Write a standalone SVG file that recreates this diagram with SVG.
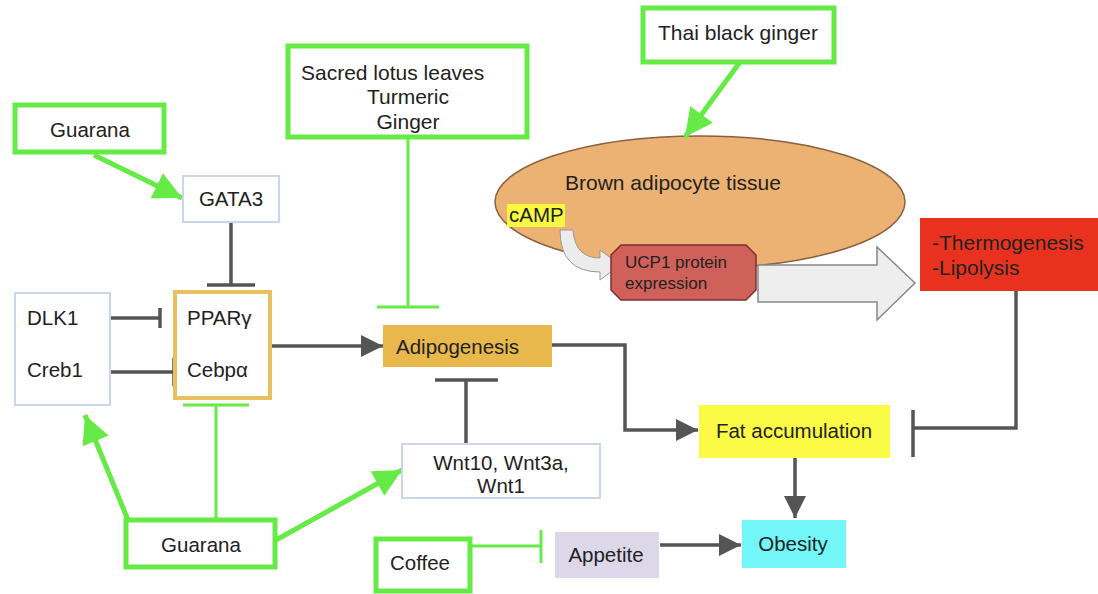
<svg xmlns="http://www.w3.org/2000/svg" width="1098" height="594" viewBox="0 0 1098 594">
<defs>
<style>
text{font-family:"Liberation Sans",Arial,sans-serif;font-size:20.5px;fill:#222}
.big{font-size:21px}
.sm{font-size:17px}
.herb{fill:#fff;stroke:#66ea46;stroke-width:5}
.gene{fill:#fff;stroke:#c9d6ec;stroke-width:2}
.gl{stroke:#555;stroke-width:3.5;fill:none}
.grn{stroke:#66ea46;stroke-width:3;fill:none}
.grnA{stroke:#66ea46;stroke-width:5;fill:none}
</style>
<marker id="ag" viewBox="0 0 10 10" refX="10" refY="5" markerWidth="26" markerHeight="22" markerUnits="userSpaceOnUse" orient="auto"><path d="M0,0 L10,5 L0,10 z" fill="#555"/></marker>
<marker id="agr" viewBox="0 0 10 10" refX="10" refY="5" markerWidth="32" markerHeight="28" markerUnits="userSpaceOnUse" orient="auto"><path d="M0,0 L10,5 L0,10 z" fill="#66ea46"/></marker>
</defs>
<rect width="1098" height="594" fill="#fff"/>

<g id="brown-adipocyte-tissue">
<ellipse cx="700" cy="202" rx="205" ry="66" fill="#ebb273" stroke="#8a6040" stroke-width="1.5"/>
<text class="big" x="673" y="190" text-anchor="middle">Brown adipocyte tissue</text>
<rect x="507" y="204" width="58" height="23" fill="#f8f840"/>
<text x="509" y="222">cAMP</text>
<path d="M560,230 L573,230 Q575,258 600,258 L600,250 L620,265 L600,280 L600,272 Q560,272 560,230 Z" fill="#ececec" stroke="#999" stroke-width="1"/>
</g>

<g id="ucp1">
<polygon points="621,245 746,245 756,255 756,290 746,300 621,300 611,290 611,255" fill="#d0605a" stroke="#7a3030" stroke-width="1.5"/>
<text class="sm" x="625" y="268">UCP1 protein</text>
<text class="sm" x="625" y="289">expression</text>
</g>

<g id="connectors">
<polygon points="758,265 877,265 877,247 915,283 877,320 877,302 758,302" fill="#eeeeee" stroke="#888" stroke-width="1.5"/>
<line class="grnA" x1="94" y1="155" x2="182" y2="198" marker-end="url(#agr)"/>
<line class="grnA" x1="740" y1="62" x2="685" y2="137" marker-end="url(#agr)"/>
<line class="grnA" x1="128" y1="520" x2="85" y2="415" marker-end="url(#agr)"/>
<line class="grnA" x1="276" y1="540" x2="402" y2="470" marker-end="url(#agr)"/>
<line class="grn" x1="408" y1="137" x2="408" y2="307"/>
<line class="grn" x1="377" y1="307" x2="439" y2="307"/>
<line class="grn" x1="216" y1="405" x2="216" y2="520"/>
<line class="grn" x1="183" y1="405" x2="249" y2="405"/>
<line class="grn" x1="472" y1="546" x2="541" y2="546"/>
<line class="grn" x1="541" y1="530" x2="541" y2="563"/>
<line class="gl" x1="231" y1="222" x2="231" y2="285"/>
<line class="gl" x1="207" y1="285" x2="255" y2="285"/>
<line class="gl" x1="97" y1="318" x2="160" y2="318"/>
<line class="gl" x1="160" y1="308" x2="160" y2="328"/>
<line class="gl" x1="107" y1="372" x2="174" y2="372"/>
<line class="gl" x1="174" y1="358" x2="174" y2="386"/>
<line class="gl" x1="466" y1="443" x2="466" y2="380"/>
<line class="gl" x1="435" y1="380" x2="498" y2="380"/>
<polyline class="gl" points="1016,291 1016,428 913,428"/>
<line class="gl" x1="913" y1="410" x2="913" y2="457"/>
<line class="gl" x1="270" y1="346" x2="383" y2="346" marker-end="url(#ag)"/>
<polyline class="gl" points="552,345 625,345 625,430 698,430" marker-end="url(#ag)"/>
<line class="gl" x1="795" y1="458" x2="795" y2="518" marker-end="url(#ag)"/>
<line class="gl" x1="660" y1="545" x2="741" y2="545" marker-end="url(#ag)"/>
</g>

<g id="guarana-top">
<rect class="herb" x="15" y="105" width="149" height="47"/>
<text x="90" y="137" text-anchor="middle">Guarana</text>
</g>

<g id="gata3">
<rect class="gene" x="183" y="176" width="96" height="46"/>
<text x="231" y="206" text-anchor="middle">GATA3</text>
</g>

<g id="dlk1-creb1">
<rect class="gene" x="15" y="293" width="95" height="112"/>
<text x="27" y="325">DLK1</text>
<text x="27" y="377">Creb1</text>
</g>

<g id="ppar-cebp">
<rect x="175" y="292" width="95" height="106" fill="#fff" stroke="#e8c05e" stroke-width="4"/>
<text x="187" y="325">PPARγ</text>
<text x="187" y="377">Cebpα</text>
</g>

<g id="herbs-lotus">
<rect class="herb" x="288" y="46" width="239" height="91"/>
<text class="big" x="301" y="80">Sacred lotus leaves</text>
<text class="big" x="408" y="104" text-anchor="middle">Turmeric</text>
<text class="big" x="408" y="129" text-anchor="middle">Ginger</text>
</g>

<g id="thai-black-ginger">
<rect class="herb" x="643" y="8" width="191" height="54"/>
<text class="big" x="738" y="40" text-anchor="middle">Thai black ginger</text>
</g>

<g id="adipogenesis">
<rect x="383" y="325" width="169" height="42" fill="#e8b84c"/>
<text x="396" y="354">Adipogenesis</text>
</g>

<g id="thermogenesis">
<rect x="920" y="218" width="178" height="73" fill="#e8321f"/>
<text class="big" x="932" y="250">-Thermogenesis</text>
<text class="big" x="932" y="275">-Lipolysis</text>
</g>

<g id="wnt">
<rect class="gene" x="402" y="444" width="198" height="54"/>
<text x="501" y="470" text-anchor="middle">Wnt10, Wnt3a,</text>
<text x="501" y="493" text-anchor="middle">Wnt1</text>
</g>

<g id="fat-accumulation">
<rect x="699" y="405" width="191" height="53" fill="#fbfb46"/>
<text x="794" y="438" text-anchor="middle">Fat accumulation</text>
</g>

<g id="guarana-bottom">
<rect class="herb" x="126" y="520" width="149" height="47"/>
<text x="201" y="552" text-anchor="middle">Guarana</text>
</g>

<g id="coffee">
<rect class="herb" x="376" y="539" width="94" height="52"/>
<text x="420" y="570" text-anchor="middle">Coffee</text>
</g>

<g id="appetite">
<rect x="555" y="532" width="104" height="46" fill="#dcd8ea"/>
<text x="606" y="562" text-anchor="middle">Appetite</text>
</g>

<g id="obesity">
<rect x="742" y="520" width="104" height="48" fill="#72f6f8"/>
<text x="793" y="551" text-anchor="middle">Obesity</text>
</g>
</svg>
